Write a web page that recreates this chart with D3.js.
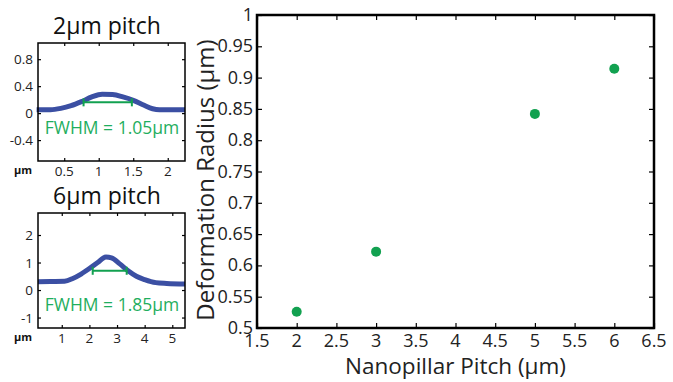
<!DOCTYPE html>
<html>
<head>
<meta charset="utf-8">
<script src="https://cdn.jsdelivr.net/npm/d3@7"></script>
<style>
  body { margin: 0; background: #fff; }
  svg { display: block; font-family: "Open Sans", sans-serif; }
</style>
</head>
<body>
<svg id="chart" width="673" height="382"></svg>
<script>
// Data
// main scatter: deformation radius vs nanopillar pitch
const pitch = [2, 3, 5, 6];
const radius = [0.526, 0.622, 0.842, 0.914];
const mainXTicks = [1.5, 2, 2.5, 3, 3.5, 4, 4.5, 5, 5.5, 6, 6.5];
const mainYTicks = [0.5, 0.55, 0.6, 0.65, 0.7, 0.75, 0.8, 0.85, 0.9, 0.95, 1];

// 2um pitch profile
const prof2X = [0.1, 0.3, 0.45, 0.6, 0.75, 0.9, 1.05, 1.2, 1.35, 1.5, 1.65, 1.78, 1.88, 2.0, 2.25];
const prof2Y = [0.05, 0.05, 0.07, 0.11, 0.17, 0.24, 0.28, 0.275, 0.24, 0.19, 0.12, 0.065, 0.05, 0.05, 0.05];
const fwhm2 = [0.78, 1.48, 0.16];
const xTicks2 = [0.5, 1, 1.5, 2];
const yTicks2 = [-0.4, 0, 0.4, 0.8];

// 6um pitch profile
const prof6X = [0.14, 0.6, 1.1, 1.4, 1.7, 2.0, 2.3, 2.6, 2.8, 3.1, 3.4, 3.7, 4.0, 4.4, 4.8, 5.46];
const prof6Y = [0.3, 0.31, 0.32, 0.42, 0.58, 0.78, 1.0, 1.2, 1.17, 0.95, 0.7, 0.5, 0.38, 0.27, 0.24, 0.22];
const fwhm6 = [2.12, 3.35, 0.7];
const xTicks6 = [1, 2, 3, 4, 5];
const yTicks6 = [-1, 0, 1, 2];

const svg = d3.select("#chart");
const green = "#12a150";
const blue = "#3b4fa3";
const fmt = (d) => String(+d.toFixed(2));

// box with inward ticks on all four sides
function drawBox(g, x, y, xt, yt, tickLen, strokeW) {
  const [x0, x1] = x.range();
  const [y0, y1] = y.range();
  g.append("g")
    .attr("transform", `translate(0,${y0})`)
    .call(d3.axisBottom(x).tickValues(xt).tickSize(-tickLen).tickFormat(""))
    .call((a) => a.select(".domain").remove());
  g.append("g")
    .attr("transform", `translate(0,${y1})`)
    .call(d3.axisTop(x).tickValues(xt).tickSize(-tickLen).tickFormat(""))
    .call((a) => a.select(".domain").remove());
  g.append("g")
    .attr("transform", `translate(${x0},0)`)
    .call(d3.axisLeft(y).tickValues(yt).tickSize(-tickLen).tickFormat(""))
    .call((a) => a.select(".domain").remove());
  g.append("g")
    .attr("transform", `translate(${x1},0)`)
    .call(d3.axisRight(y).tickValues(yt).tickSize(-tickLen).tickFormat(""))
    .call((a) => a.select(".domain").remove());
  g.selectAll(".tick line").attr("stroke", "#000").attr("stroke-width", 1.2);
  g.append("rect")
    .attr("x", x0)
    .attr("y", y1)
    .attr("width", x1 - x0)
    .attr("height", y0 - y1)
    .attr("fill", "none")
    .attr("stroke", "#000")
    .attr("stroke-width", strokeW);
}

// 1. Main scatter plot
const mx = d3.scaleLinear().domain([1.5, 6.5]).range([257, 654]);
const my = d3.scaleLinear().domain([0.5, 1]).range([328, 15]);
const main = svg.append("g");

main.selectAll("circle")
  .data(pitch)
  .enter()
  .append("circle")
  .attr("cx", (d) => mx(d))
  .attr("cy", (d, i) => my(radius[i]))
  .attr("r", 5)
  .attr("fill", green);

drawBox(main, mx, my, mainXTicks, mainYTicks, 5, 2.5);

main.selectAll(".xlab")
  .data(mainXTicks)
  .enter()
  .append("text")
  .attr("x", (d) => mx(d))
  .attr("y", 347)
  .attr("text-anchor", "middle")
  .attr("font-size", "18px")
  .attr("fill", "#222")
  .text(fmt);

main.selectAll(".ylab")
  .data(mainYTicks)
  .enter()
  .append("text")
  .attr("x", 253)
  .attr("y", (d) => my(d) + 6)
  .attr("text-anchor", "end")
  .attr("font-size", "18px")
  .attr("fill", "#222")
  .text(fmt);

main.append("text")
  .attr("x", mx(4))
  .attr("y", 374)
  .attr("text-anchor", "middle")
  .attr("font-size", "22.5px")
  .attr("fill", "#222")
  .text("Nanopillar Pitch (µm)");

main.append("text")
  .attr("transform", "rotate(-90)")
  .attr("x", -180)
  .attr("y", 214)
  .attr("text-anchor", "middle")
  .attr("font-size", "24px")
  .attr("fill", "#222")
  .text("Deformation Radius (µm)");

// 2. Small profile panels
function drawProfile(opts) {
  const g = svg.append("g");
  const x = d3.scaleLinear().domain(opts.xDomain).range([38, 185]);
  const y = d3.scaleLinear().domain(opts.yDomain).range([opts.bottom, opts.top]);

  g.append("text")
    .attr("x", 107)
    .attr("y", opts.top - 9)
    .attr("text-anchor", "middle")
    .attr("font-size", "23px")
    .attr("fill", "#111")
    .text(opts.title);

  const line = d3.line()
    .x((d) => x(d[0]))
    .y((d) => y(d[1]))
    .curve(d3.curveMonotoneX);
  g.append("path")
    .datum(opts.px.map((v, i) => [v, opts.py[i]]))
    .attr("d", line)
    .attr("fill", "none")
    .attr("stroke", blue)
    .attr("stroke-width", 5)
    .attr("stroke-linecap", "butt");

  // FWHM bar with end caps
  const [f0, f1, fy] = opts.fwhm;
  g.append("line")
    .attr("x1", x(f0)).attr("x2", x(f1))
    .attr("y1", y(fy)).attr("y2", y(fy))
    .attr("stroke", green).attr("stroke-width", 2);
  [f0, f1].forEach((v) => {
    g.append("line")
      .attr("x1", x(v)).attr("x2", x(v))
      .attr("y1", y(fy) - 4).attr("y2", y(fy) + 4)
      .attr("stroke", green).attr("stroke-width", 2);
  });

  g.append("text")
    .attr("x", 112)
    .attr("y", opts.labelY)
    .attr("text-anchor", "middle")
    .attr("font-size", "17.5px")
    .attr("fill", "#1fae5e")
    .text(opts.label);

  drawBox(g, x, y, opts.xt, opts.yt, 3, 1.5);

  g.selectAll(".sx")
    .data(opts.xt)
    .enter()
    .append("text")
    .attr("x", (d) => x(d))
    .attr("y", opts.bottom + 15)
    .attr("text-anchor", "middle")
    .attr("font-size", "13.5px")
    .attr("fill", "#222")
    .text(fmt);

  g.selectAll(".sy")
    .data(opts.yt)
    .enter()
    .append("text")
    .attr("x", 33)
    .attr("y", (d) => y(d) + 5)
    .attr("text-anchor", "end")
    .attr("font-size", "13.5px")
    .attr("fill", "#222")
    .text(fmt);

  g.append("text")
    .attr("x", 14)
    .attr("y", opts.bottom + 13)
    .attr("font-size", "11px")
    .attr("font-weight", "bold")
    .attr("fill", "#111")
    .text("µm");
}

drawProfile({
  title: "2µm pitch",
  label: "FWHM = 1.05µm",
  top: 43, bottom: 161, labelY: 134,
  xDomain: [0.12, 2.25], yDomain: [-0.71, 1.04],
  px: prof2X, py: prof2Y, fwhm: fwhm2, xt: xTicks2, yt: yTicks2
});

drawProfile({
  title: "6µm pitch",
  label: "FWHM = 1.85µm",
  top: 213, bottom: 328, labelY: 311,
  xDomain: [0.14, 5.46], yDomain: [-1.38, 2.8],
  px: prof6X, py: prof6Y, fwhm: fwhm6, xt: xTicks6, yt: yTicks6
});
</script>
</body>
</html>
